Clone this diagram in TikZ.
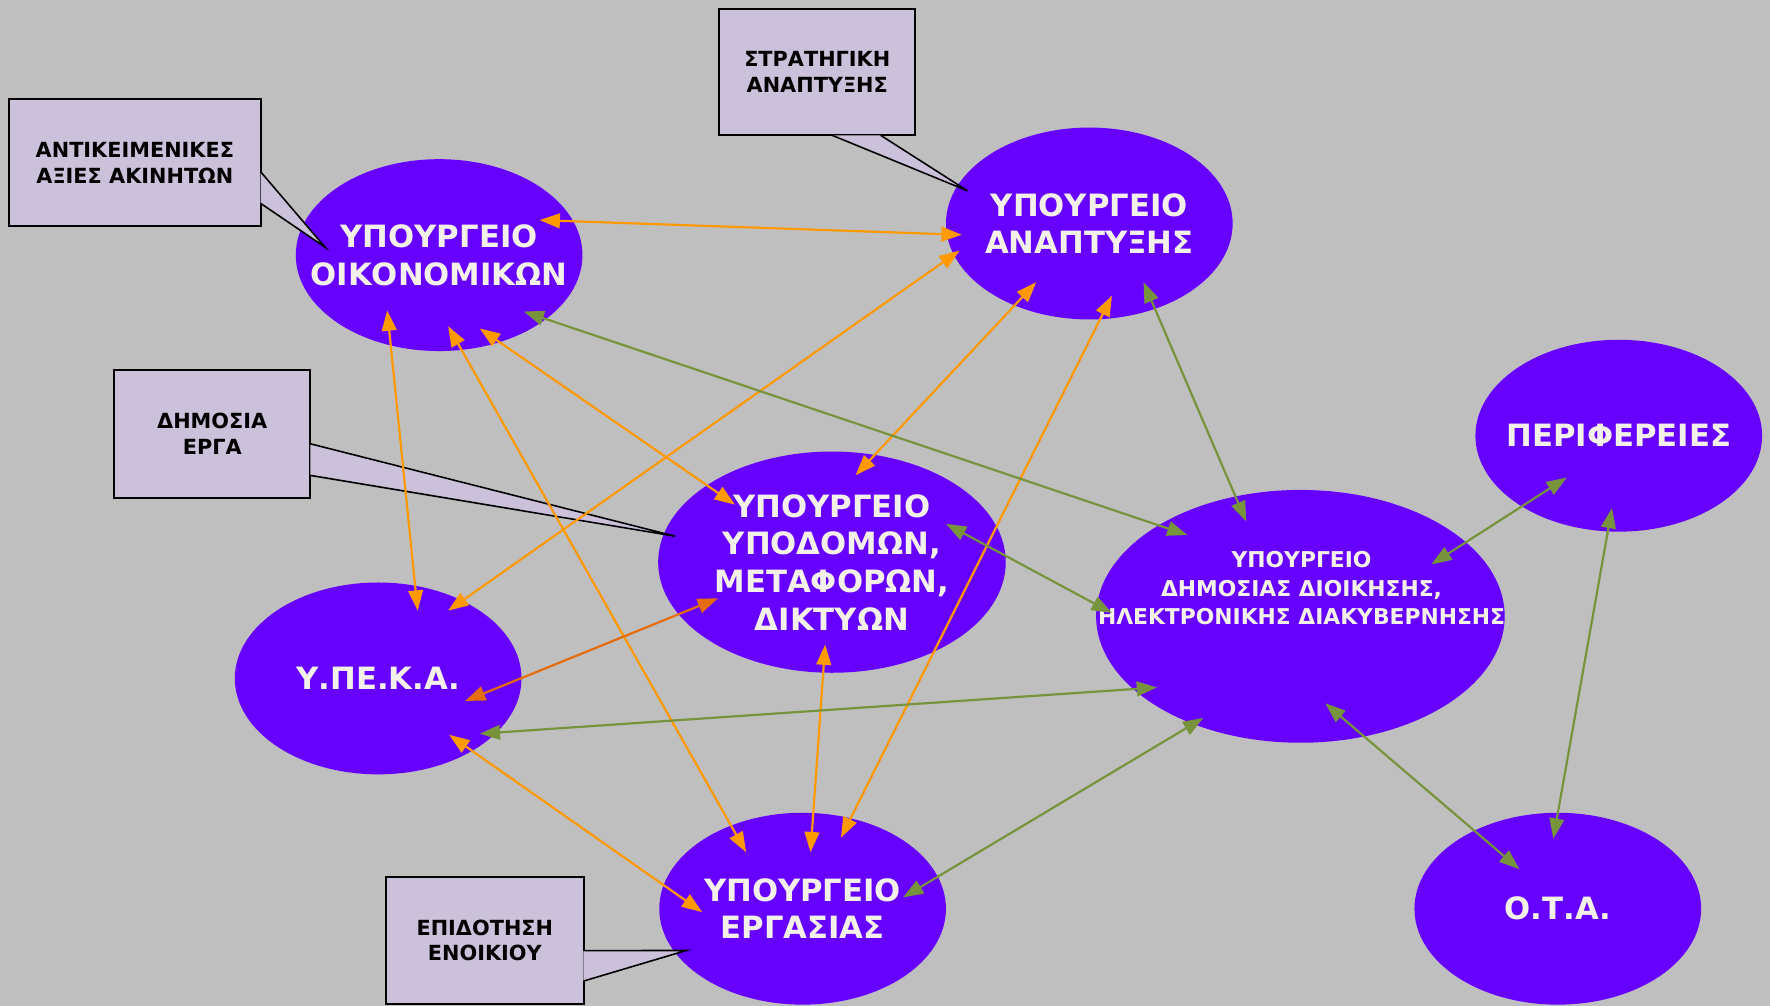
\documentclass[tikz,border=0pt]{standalone}
\usepackage{fontspec}
\setmainfont{DejaVu Sans}
\usetikzlibrary{shapes.geometric,arrows.meta,calc}

\definecolor{bggray}{RGB}{191,191,191}
\definecolor{minviolet}{RGB}{102,0,255}
\definecolor{lilac}{RGB}{204,193,218}
\definecolor{orangearr}{RGB}{255,153,0}
\definecolor{darkorangearr}{RGB}{228,108,10}
\definecolor{greenarr}{RGB}{119,147,60}
\definecolor{cream}{RGB}{242,240,232}

\begin{document}
\begin{tikzpicture}[
    x=0.02cm, y=-0.02cm,
    ministry/.style={
        ellipse,
        fill=minviolet,
        inner xsep=-1.2cm,
        inner ysep=0pt,
        text=cream,
        align=center,
        font=\bfseries\fontsize{15.5}{19}\selectfont,
        minimum width=5.08cm,
        minimum height=3.4cm
    },
    note/.style={
        rectangle,
        draw,
        line width=1pt,
        fill=lilac,
        inner sep=0pt,
        align=center,
        font=\bfseries\fontsize{10.5}{13}\selectfont,
        minimum width=3.48cm,
        minimum height=2.24cm
    },
    pointer/.style={fill=lilac, draw, line width=0.8pt},
    link/.style={<->, >={Triangle[length=0.36cm,width=0.26cm]}, line width=1.1pt},
    olink/.style={link, color=orangearr},
    dlink/.style={link, color=darkorangearr},
    glink/.style={link, color=greenarr}
]

\path[use as bounding box, fill=bggray] (0,0) rectangle (1568,891);

% Nodes
\node[ministry] (oik) at (389,226) {ΥΠΟΥΡΓΕΙΟ\\ΟΙΚΟΝΟΜΙΚΩΝ};
\node[ministry] (anapt) at (965,198) {ΥΠΟΥΡΓΕΙΟ\\ΑΝΑΠΤΥΞΗΣ};
\node[ministry, minimum width=6.16cm, minimum height=3.92cm] (ypod) at (737,498) {ΥΠΟΥΡΓΕΙΟ\\ΥΠΟΔΟΜΩΝ,\\ΜΕΤΑΦΟΡΩΝ,\\ΔΙΚΤΥΩΝ};
\node[ministry] (ypeka) at (335,601) {Υ.ΠΕ.Κ.Α.};
\node[ministry, minimum width=7.24cm, minimum height=4.48cm] (dioik) at (1152,546) {};
\node[text=cream, align=center, font=\bfseries\fontsize{11}{14.2}\selectfont] (dioiktext) at (1153,521) {ΥΠΟΥΡΓΕΙΟ\\ΔΗΜΟΣΙΑΣ ΔΙΟΙΚΗΣΗΣ,\\ΗΛΕΚΤΡΟΝΙΚΗΣ ΔΙΑΚΥΒΕΡΝΗΣΗΣ};
\node[ministry] (perif) at (1434,386) {ΠΕΡΙΦΕΡΕΙΕΣ};
\node[ministry] (ota) at (1380,805) {Ο.Τ.Α.};
\node[ministry] (ergas) at (711,805) {ΥΠΟΥΡΓΕΙΟ\\ΕΡΓΑΣΙΑΣ};

% Callouts
\node[note, minimum width=4.46cm] (aksies) at (119.5,144) {ΑΝΤΙΚΕΙΜΕΝΙΚΕΣ\\ΑΞΙΕΣ ΑΚΙΝΗΤΩΝ};
\node[note] (strat) at (724,64) {ΣΤΡΑΤΗΓΙΚΗ\\ΑΝΑΠΤΥΞΗΣ};
\node[note, minimum height=2.26cm] (erga) at (188,384.5) {ΔΗΜΟΣΙΑ\\ΕΡΓΑ};
\node[note, minimum width=3.5cm] (enoik) at (429.5,833) {ΕΠΙΔΟΤΗΣΗ\\ΕΝΟΙΚΙΟΥ};

\filldraw[pointer] ($(aksies.north east)+(-1,65)$) -- ([shift={(-101,-7)}]oik.center) -- ($(aksies.north east)+(-1,93)$);
\filldraw[pointer] ($(strat.south west)+(101,-1)$) -- ([shift={(-108,-29)}]anapt.center) -- ($(strat.south west)+(144,-1)$);
\filldraw[pointer] ($(erga.north east)+(-1,66)$) -- ([shift={(-139,-23)}]ypod.center) -- ($(erga.north east)+(-1,94)$);
\filldraw[pointer] ($(enoik.north east)+(-1,66)$) -- ([shift={(-103,37)}]ergas.center) -- ($(enoik.north east)+(-1,93)$);

% Arrows
\draw[olink] ([shift={(89,-31)}]oik.center) -- ([shift={(-113,10)}]anapt.center);
\draw[olink] ([shift={(-115,24)}]anapt.center) -- ([shift={(62,-60)}]ypeka.center);
\draw[olink] ([shift={(-47,52)}]anapt.center) -- ([shift={(21,-77)}]ypod.center);
\draw[olink] ([shift={(20,64)}]anapt.center) -- ([shift={(34,-63)}]ergas.center);
\draw[olink] ([shift={(-46,49)}]oik.center) -- ([shift={(35,-60)}]ypeka.center);
\draw[olink] ([shift={(8,63)}]oik.center) -- ([shift={(-50,-50)}]ergas.center);
\draw[olink] ([shift={(36,65)}]oik.center) -- ([shift={(-86,-51)}]ypod.center);
\draw[olink] ([shift={(-6,73)}]ypod.center) -- ([shift={(7,-50)}]ergas.center);
\draw[olink] ([shift={(63,50)}]ypeka.center) -- ([shift={(-89,3)}]ergas.center);
\draw[dlink] ([shift={(77,20)}]ypeka.center) -- ([shift={(-101,32)}]ypod.center);

\draw[glink] ([shift={(75,50)}]oik.center) -- ([shift={(-100,-72)}]dioik.center);
\draw[glink] ([shift={(48,52)}]anapt.center) -- ([shift={(-48,-84)}]dioik.center);
\draw[glink] ([shift={(101,-34)}]ypod.center) -- ([shift={(-167,-3)}]dioik.center);
\draw[glink] ([shift={(90,49)}]ypeka.center) -- ([shift={(-127,63)}]dioik.center);
\draw[glink] ([shift={(89,-10)}]ergas.center) -- ([shift={(-86,90)}]dioik.center);
\draw[glink] ([shift={(116,-46)}]dioik.center) -- ([shift={(-46,37)}]perif.center);
\draw[glink] ([shift={(22,77)}]dioik.center) -- ([shift={(-34,-35)}]ota.center);
\draw[glink] ([shift={(-6,64)}]perif.center) -- ([shift={(-4,-62)}]ota.center);

\end{tikzpicture}
\end{document}
